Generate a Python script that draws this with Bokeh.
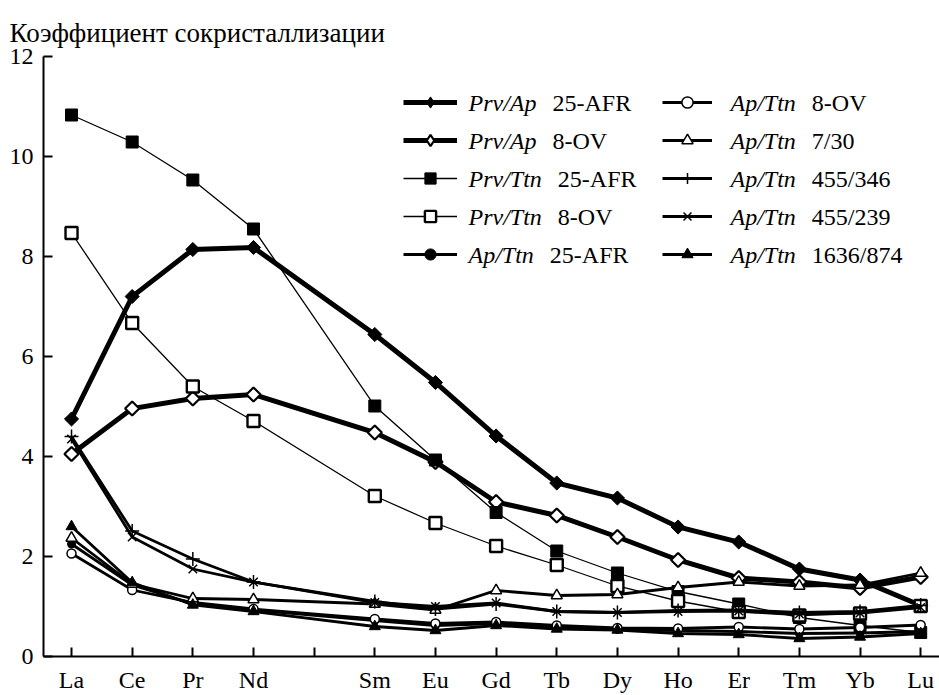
import math
from bokeh.plotting import figure
from bokeh.models import Range1d, FixedTicker, Legend, LegendItem, Label, Title
from bokeh.embed import file_html
from bokeh.resources import INLINE

# ---------------- data ----------------
ree_series = ["La", "Ce", "Pr", "Nd", "Pm", "Sm", "Eu", "Gd", "Tb", "Dy", "Ho", "Er", "Tm", "Yb", "Lu"]
elements = ["La", "Ce", "Pr", "Nd", "Sm", "Eu", "Gd", "Tb", "Dy", "Ho", "Er", "Tm", "Yb", "Lu"]
y_ticks = [0, 2, 4, 6, 8, 10, 12]
y_title = "Коэффициент сокристаллизации"

prv_ap_25afr = [4.75, 7.20, 8.14, 8.18, 6.44, 5.48, 4.41, 3.47, 3.17, 2.59, 2.29, 1.75, 1.53, 1.02]
prv_ap_8ov = [4.05, 4.96, 5.16, 5.24, 4.48, 3.89, 3.09, 2.82, 2.39, 1.93, 1.57, 1.49, 1.37, 1.59]
prv_ttn_25afr = [10.83, 10.29, 9.53, 8.55, 5.01, 3.93, 2.88, 2.11, 1.67, 1.30, 1.05, 0.78, 0.62, 0.48]
prv_ttn_8ov = [8.47, 6.67, 5.40, 4.71, 3.21, 2.67, 2.21, 1.83, 1.41, 1.11, 0.89, 0.82, 0.86, 1.01]
ap_ttn_25afr = [2.25, 1.43, 1.06, 0.93, 0.72, 0.62, 0.66, 0.58, 0.54, 0.52, 0.50, 0.46, 0.47, 0.50]
ap_ttn_8ov = [2.06, 1.33, 1.08, 0.95, 0.75, 0.66, 0.69, 0.62, 0.57, 0.56, 0.59, 0.55, 0.58, 0.63]
ap_ttn_7_30 = [2.37, 1.45, 1.16, 1.14, 1.05, 0.93, 1.32, 1.22, 1.24, 1.38, 1.49, 1.41, 1.43, 1.67]
ap_ttn_455_346 = [4.40, 2.51, 1.95, 1.49, 1.10, 0.95, 1.05, 0.90, 0.88, 0.92, 0.93, 0.88, 0.90, 1.02]
ap_ttn_455_239 = [4.35, 2.39, 1.75, 1.49, 1.08, 1.00, 1.07, 0.90, 0.88, 0.90, 0.91, 0.85, 0.87, 0.98]
ap_ttn_1636_874 = [2.60, 1.48, 1.03, 0.90, 0.60, 0.52, 0.62, 0.55, 0.53, 0.46, 0.44, 0.36, 0.39, 0.46]

# (italic part, normal part, values, style key)
series = [
    ("Prv/Ap", "25-AFR", prv_ap_25afr, "prvap_f"),
    ("Prv/Ap", "8-OV", prv_ap_8ov, "prvap_o"),
    ("Prv/Ttn", "25-AFR", prv_ttn_25afr, "prvttn_f"),
    ("Prv/Ttn", "8-OV", prv_ttn_8ov, "prvttn_o"),
    ("Ap/Ttn", "25-AFR", ap_ttn_25afr, "circ_f"),
    ("Ap/Ttn", "8-OV", ap_ttn_8ov, "circ_o"),
    ("Ap/Ttn", "7/30", ap_ttn_7_30, "tri_o"),
    ("Ap/Ttn", "455/346", ap_ttn_455_346, "cross"),
    ("Ap/Ttn", "455/239", ap_ttn_455_239, "x"),
    ("Ap/Ttn", "1636/874", ap_ttn_1636_874, "tri_f"),
]

# ---------------- styles ----------------
styles = {
    "prvap_f": dict(lw=5.0, marker="square", size=10, angle=math.pi / 4, fill="black", mlw=1.0, leg="diamond"),
    "prvap_o": dict(lw=5.0, marker="square", size=10, angle=math.pi / 4, fill="white", mlw=2.2, leg="diamond"),
    "prvttn_f": dict(lw=1.3, marker="square", size=12, angle=0, fill="black", mlw=1.0),
    "prvttn_o": dict(lw=1.3, marker="square", size=12, angle=0, fill="white", mlw=2.4),
    "circ_f": dict(lw=2.8, marker="circle", size=8, angle=0, fill="black", mlw=1.0),
    "circ_o": dict(lw=2.8, marker="circle", size=9, angle=0, fill="white", mlw=1.5),
    "tri_o": dict(lw=2.8, marker="triangle", size=11, angle=0, fill="white", mlw=1.5),
    "cross": dict(lw=2.8, marker="cross", size=14, angle=0, fill="black", mlw=1.5),
    "x": dict(lw=2.8, marker="x", size=12, angle=0, fill="black", mlw=1.5),
    "tri_f": dict(lw=2.8, marker="triangle", size=11, angle=0, fill="black", mlw=1.0),
}

FONT = "Liberation Serif"
W, H = 939, 695
LEFT, TOP, RIGHT, BOTTOM = 43, 56, 0, 37
FH = H - TOP - BOTTOM

xs = [ree_series.index(e) for e in elements]

p = figure(width=W, height=H, output_backend="svg", toolbar_location=None,
           x_range=Range1d(-0.462, 14.31), y_range=Range1d(0, 12),
           min_border_left=LEFT, min_border_right=RIGHT,
           min_border_top=TOP, min_border_bottom=BOTTOM)
p.grid.visible = False
p.outline_line_color = None
p.background_fill_color = "white"
p.border_fill_color = "white"

# quantity title at the top-left, above the y axis
p.title = Title(text=y_title, align="left", offset=-34,
                text_font=FONT, text_font_size="27px", text_font_style="normal",
                text_color="black", standoff=18)

# axes
p.yaxis.ticker = FixedTicker(ticks=y_ticks)
p.xaxis.ticker = FixedTicker(ticks=xs, minor_ticks=[ree_series.index("Pm")])
p.xaxis.major_label_overrides = {x: e for x, e in zip(xs, elements)}
for ax in (p.xaxis[0], p.yaxis[0]):
    ax.axis_line_width = 2
    ax.axis_line_color = "black"
    ax.major_tick_line_width = 2
    ax.major_tick_in = 9
    ax.major_tick_out = 0
    ax.minor_tick_line_width = 2
    ax.minor_tick_in = 9
    ax.minor_tick_out = 0
    ax.major_label_text_font = FONT
    ax.major_label_text_font_size = "24px"
    ax.major_label_text_color = "black"
p.yaxis.minor_tick_line_color = None
p.yaxis.major_label_standoff = 10
p.xaxis.major_label_standoff = 10

items1, items2 = [], []
for i, (ital, norm, vals, key) in enumerate(series):
    st = styles[key]
    lr = p.line(xs, vals, line_color="black", line_width=st["lw"], line_join="miter")
    sr = p.scatter(xs, vals, marker=st["marker"], size=st["size"], angle=st["angle"],
                   fill_color=st["fill"], line_color="black", line_width=st["mlw"])
    rends = [lr, sr]
    if "leg" in st:
        # legend-only marker sample (legend samples ignore marker rotation)
        lm = p.scatter([float("nan")], [float("nan")], marker=st["leg"], size=10,
                       fill_color=st["fill"], line_color="black", line_width=st["mlw"])
        rends = [lr, lm]
    it = LegendItem(label="", renderers=rends)
    (items1 if i < 5 else items2).append(it)

GH, SP = 28, 10
LEG_H = 5 * GH + 4 * SP

def make_legend(items, x, gw):
    lg = Legend(items=items, location=(x, FH - (104 - GH // 2 - TOP) - LEG_H),
                background_fill_alpha=0, border_line_alpha=0, padding=0, margin=0,
                spacing=SP, glyph_width=gw, glyph_height=GH, label_height=GH,
                label_width=0, label_standoff=0, label_text_font_size="12px")
    p.add_layout(lg, "center")

make_legend(items1, 403 - LEFT, 54)
make_legend(items2, 662 - LEFT, 50)

# legend texts (italic mineral pair + normal sample name)
it_w = {"Prv/Ap": 2.833, "Prv/Ttn": 3.056, "Ap/Ttn": 2.723}
FS = 24
for i, (ital, norm, vals, key) in enumerate(series):
    col, row = divmod(i, 5)
    x0 = (468 if col == 0 else 730) - LEFT
    yc = FH - (104 + 38 * row - TOP)
    p.add_layout(Label(x=x0, y=yc, x_units="screen", y_units="screen", text=ital,
                       text_font=FONT, text_font_style="italic", text_font_size=f"{FS}px",
                       text_baseline="middle", text_align="left", text_color="black"))
    p.add_layout(Label(x=x0 + it_w[ital] * FS + 0.25 * FS + 10, y=yc, x_units="screen", y_units="screen",
                       text=norm, text_font=FONT, text_font_size=f"{FS}px",
                       text_baseline="middle", text_align="left", text_color="black"))

open("out.html", "w").write(file_html(p, INLINE))
